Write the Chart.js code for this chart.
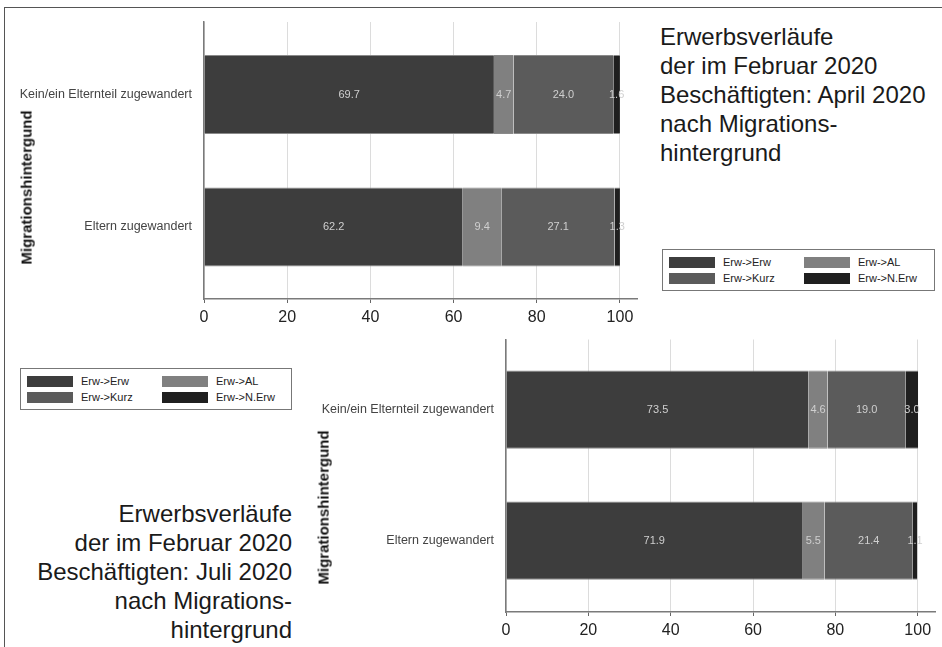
<!DOCTYPE html>
<html>
<head>
<meta charset="utf-8">
<script src="https://cdn.jsdelivr.net/npm/chart.js@4/dist/chart.umd.min.js"></script>
<style>
  html, body { margin: 0; padding: 0; background: #fff; }
  body { width: 942px; height: 647px; position: relative; overflow: hidden;
         font-family: "Liberation Sans", Arial, sans-serif; }
  .frame { position: absolute; left: 4px; top: 7px; width: 960px; height: 700px;
           border-left: 1.5px solid #555; border-top: 1.5px solid #555; }
  canvas { position: absolute; }
  .title { position: absolute; font-size: 24px; line-height: 29px; color: #1a1a1a; white-space: nowrap; }
  .ytitle { position: absolute; font-size: 15px; font-weight: bold; color: #111;
            white-space: nowrap; text-align: center; transform: rotate(-90deg); }
  .legend { position: absolute; border: 1px solid #777; background: #fff; box-sizing: border-box; }
  .legend .item { position: absolute; font-size: 11px; color: #222; line-height: 11px; white-space: nowrap; }
  .legend .sw { display: inline-block; width: 46px; height: 11px; vertical-align: top; margin-right: 8px; }
</style>
</head>
<body>
<div class="frame"></div>

<canvas id="chartApril" width="660" height="340" style="left:0;top:0;"></canvas>
<canvas id="chartJuli" width="642" height="327" style="left:300px;top:320px;"></canvas>

<div class="ytitle" id="ytitleApril"></div>
<div class="ytitle" id="ytitleJuli"></div>

<div class="title" id="titleApril" style="left:660px;top:22px;text-align:left;"></div>
<div class="title" id="titleJuli" style="right:650px;top:499px;text-align:right;"></div>

<div class="legend" id="legendApril" style="left:662px;top:249px;width:273px;height:42px;"></div>
<div class="legend" id="legendJuli" style="left:20px;top:368px;width:272px;height:42px;"></div>

<script>
// Categories and series
const categories = ['Kein/ein Elternteil zugewandert', 'Eltern zugewandert'];
const seriesNames = ['Erw->Erw', 'Erw->AL', 'Erw->Kurz', 'Erw->N.Erw'];
const seriesColors = ['#3d3d3d', '#808080', '#5b5b5b', '#1f1f1f'];

// April 2020 shares (%)
const aprilErwErw  = [69.7, 62.2];
const aprilErwAL   = [4.7, 9.4];
const aprilErwKurz = [24.0, 27.1];
const aprilErwNErw = [1.6, 1.3];

// July 2020 shares (%)
const juliErwErw  = [73.5, 71.9];
const juliErwAL   = [4.6, 5.5];
const juliErwKurz = [19.0, 21.4];
const juliErwNErw = [3.0, 1.1];

const xTicks = [0, 20, 40, 60, 80, 100];
const axisTitle = 'Migrationshintergund';
const titleApril = ['Erwerbsverläufe', 'der im Februar 2020', 'Beschäftigten: April 2020', 'nach Migrations-', 'hintergrund'];
const titleJuli  = ['Erwerbsverläufe', 'der im Februar 2020', 'Beschäftigten: Juli 2020', 'nach Migrations-', 'hintergrund'];

const FONT = '"Liberation Sans", Arial, sans-serif';

// Segment value labels, centred in each stacked piece
const valueLabels = {
  id: 'valueLabels',
  afterDatasetsDraw(chart) {
    const ctx = chart.ctx;
    ctx.save();
    ctx.font = '11px ' + FONT;
    ctx.fillStyle = '#cfcfcf';
    ctx.textAlign = 'center';
    ctx.textBaseline = 'middle';
    chart.data.datasets.forEach((ds, di) => {
      const meta = chart.getDatasetMeta(di);
      meta.data.forEach((bar, i) => {
        const v = ds.data[i].x;
        ctx.fillText(v.toFixed(1), (bar.x + bar.base) / 2, bar.y);
      });
    });
    ctx.restore();
  }
};

function buildChart(id, series, cfg) {
  const datasets = seriesNames.map((name, s) => ({
    label: name,
    data: series[s].map((v, i) => ({ x: v, y: i })),
    backgroundColor: seriesColors[s],
    borderColor: '#8a8a8a',
    borderWidth: { top: 1, bottom: 1, left: 0, right: 0 },
    borderSkipped: false,
    stack: 'total',
    barPercentage: 1,
    categoryPercentage: cfg.barFrac
  }));
  return new Chart(document.getElementById(id), {
    type: 'bar',
    data: { datasets },
    options: {
      indexAxis: 'y',
      responsive: false,
      animation: false,
      layout: { padding: cfg.padding },
      plugins: { legend: { display: false }, tooltip: { enabled: false } },
      scales: {
        x: {
          type: 'linear', stacked: true, min: 0, max: cfg.xMax,
          afterBuildTicks: s => { s.ticks = xTicks.map(v => ({ value: v })); },
          afterFit: s => { s.height = 35; },
          grid: { color: '#dcdcdc', lineWidth: 1, tickLength: 4, tickColor: '#666' },
          border: { color: '#7a7a7a', width: 1.5 },
          ticks: { font: { size: 16, family: FONT }, color: '#222', padding: 5, maxRotation: 0 }
        },
        y: {
          type: 'linear', reverse: true, offset: false, min: cfg.yMin, max: cfg.yMax,
          afterBuildTicks: s => { s.ticks = categories.map((_, i) => ({ value: i })); },
          afterFit: s => { s.width = cfg.yWidth; },
          grid: { display: false, drawTicks: false, offset: false },
          border: { color: '#7a7a7a', width: 1.5 },
          ticks: { callback: v => categories[v], font: { size: 12.5, family: FONT }, color: '#444', padding: 12 }
        }
      }
    },
    plugins: [valueLabels]
  });
}

buildChart('chartApril', [aprilErwErw, aprilErwAL, aprilErwKurz, aprilErwNErw], {
  padding: { top: 22, left: 0, right: 23, bottom: 6 },
  yWidth: 204, xMax: 104.1, yMin: -0.547, yMax: 1.543, barFrac: 79 / 132.5
});
buildChart('chartJuli', [juliErwErw, juliErwAL, juliErwKurz, juliErwNErw], {
  padding: { top: 17, left: 0, right: 7, bottom: 0 },
  yWidth: 206, xMax: 104.2, yMin: -0.5356, yMax: 1.5446, barFrac: 79 / 132.2
});

// Rotated axis titles
function placeYTitle(id, cx, cy) {
  const el = document.getElementById(id);
  el.textContent = axisTitle;
  const w = el.offsetWidth, h = el.offsetHeight;
  el.style.left = (cx - w / 2) + 'px';
  el.style.top = (cy - h / 2) + 'px';
}
placeYTitle('ytitleApril', 26, 187);
placeYTitle('ytitleJuli', 323, 507);

// Title blocks
function fillTitle(id, lines) {
  const el = document.getElementById(id);
  lines.forEach(t => { const d = document.createElement('div'); d.textContent = t; el.appendChild(d); });
}
fillTitle('titleApril', titleApril);
fillTitle('titleJuli', titleJuli);

// Legends (2 x 2)
function fillLegend(id) {
  const el = document.getElementById(id);
  const pos = [[6, 7], [141, 7], [6, 23], [141, 23]];
  seriesNames.forEach((name, s) => {
    const it = document.createElement('div');
    it.className = 'item';
    it.style.left = pos[s][0] + 'px';
    it.style.top = pos[s][1] + 'px';
    const sw = document.createElement('span');
    sw.className = 'sw';
    sw.style.background = seriesColors[s];
    it.appendChild(sw);
    it.appendChild(document.createTextNode(name));
    el.appendChild(it);
  });
}
fillLegend('legendApril');
fillLegend('legendJuli');
</script>
</body>
</html>
